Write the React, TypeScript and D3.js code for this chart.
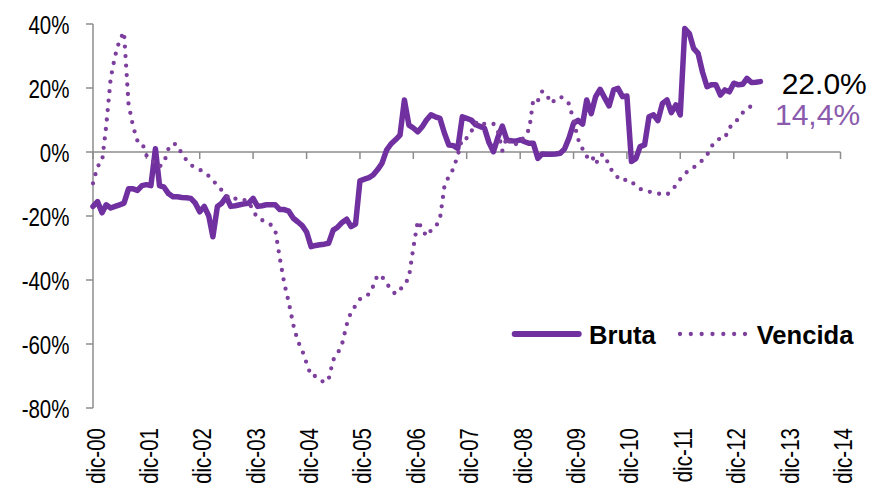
import React from "react";
import * as d3 from "d3";

// Monthly series from dic-00 (index 0), values in %
const bruta: number[] = [
  -17, -15.5, -19, -16.5, -17.5, -17, -16.5, -16, -11.5, -11.5,
  -12, -10.5, -10.2, -10.5, 1, -10.5, -11, -13, -14, -14,
  -14.2, -14.3, -14.5, -16, -18.7, -17, -20, -26.5, -17, -16,
  -14, -17, -16.8, -16.5, -16.2, -16, -14.5, -17, -16.8, -16.5,
  -16.5, -16.5, -18, -18, -18.5, -20.7, -21.8, -23, -25, -29.6,
  -29.2, -29, -28.8, -28.5, -24.4, -23.5, -22, -21, -23.3, -22.5,
  -9, -8.5, -8, -7.2, -5.5, -3.5, 0.6, 2.5, 3.8, 5.3,
  16.25, 8.4, 7.5, 6.3, 8, 10, 11.6, 11, 10.5, 6,
  2.2, 2, 1.1, 11, 10.5, 10, 8.5, 8, 7.4, 3,
  0.1, 4.5, 8.1, 3.75, 3.5, 3.4, 3.8, 3.2, 2.7, 2.7,
  -2, -0.6, -0.7, -0.7, -0.6, -0.4, 1, 4.5, 9, 9.9,
  8.75, 16.25, 12, 17.3, 19.6, 17, 14.4, 19.4, 19.9, 17.3,
  17.5, -3, -2, 1.7, 2.2, 11, 11.6, 9.8, 15.2, 16.25,
  12.3, 14.7, 11.6, 38.6, 37, 32.4, 30.8, 25, 20.4, 21,
  21, 17.8, 19.4, 18.8, 21.5, 21, 21.2, 23, 21.7, 21.8,
  22,
];

const vencida: number[] = [
  -9.8, -4.5, -3, 8, 23, 30, 35, 37.5, 15, 8,
  3.5, 3, -1, -2.8, -3.3, -4.6, -3.3, 1, 2.7, 2.2,
  -0.6, -2.5, -4, -5, -5.5, -6.5, -7.5, -9, -10.3, -12,
  -13.5, -15, -14.6, -14.4, -15, -15.5, -18.3, -20.7, -21.3, -21.8,
  -22.8, -24.5, -33.2, -41, -47, -54, -59, -62, -66, -70,
  -70, -71, -72.1, -71, -65, -63, -60, -54, -50, -48,
  -46, -44.8, -44.5, -42, -38.4, -39, -41, -43, -44.4, -43,
  -41.6, -39.2, -30, -21.5, -24.2, -26.3, -24.5, -23.5, -21, -11,
  -7.5, -5.3, -1, 4.3, 4.3, 6.3, 9.2, 8.1, 8.8, 8.8,
  8.8, 6.6, 0.4, 4.6, 2, 2.5, 2.7, 5.3, 7, 16.5,
  16, 19, 17.8, 15.2, 16.5, 17.3, 16.5, 15, 9.8, 4,
  0.9, -1.5, -0.7, -3.9, -0.9, -0.9, -4.3, -6.7, -8, -9.1,
  -8.5, -9.5, -10.3, -11.5, -12.2, -12.4, -12.6, -13, -13.2, -13.4,
  -12, -10.5, -8.5, -6.9, -5.5, -4.8, -4, -2.5, -1, 1.7,
  3.5, 4.3, 4.3, 7.7, 8.5, 10.5, 12.3, 13.5, 14.4,
];

const xTickLabels: string[] = [
  "dic-00", "dic-01", "dic-02", "dic-03", "dic-04", "dic-05", "dic-06", "dic-07",
  "dic-08", "dic-09", "dic-10", "dic-11", "dic-12", "dic-13", "dic-14",
];
const yTicks: number[] = [40, 20, 0, -20, -40, -60, -80];
const seriesNames: string[] = ["Bruta", "Vencida"];
const endLabels: string[] = ["22.0%", "14,4%"];

const W = 885;
const H = 491;
const startDate = new Date(2000, 11, 1);
const endDate = new Date(2014, 11, 1);

const x = d3.scaleTime().domain([startDate, endDate]).range([93, 840.5]);
const y = d3.scaleLinear().domain([-80, 40]).range([408, 24]);

const monthDate = (i: number) => d3.timeMonth.offset(startDate, i);

const line = d3
  .line<number>()
  .x((_, i) => x(monthDate(i)))
  .y((d) => y(d))
  .curve(d3.curveLinear);

const BRUTA_COLOR = "#7030A0";
const VENC_COLOR = "#7D3F9D";
const AXIS_COLOR = "#8c8c8c";
const FONT = "'Liberation Sans', Arial, sans-serif";

export default function App() {
  const xTicks = xTickLabels.map((_, i) => d3.timeMonth.offset(startDate, i * 12));
  return (
    <svg
      width={W}
      height={H}
      style={{ position: "absolute", left: 0, top: 0, background: "#fff" }}
      fontFamily={FONT}
    >
      {/* y axis */}
      <line x1={x(startDate)} x2={x(startDate)} y1={y(40)} y2={y(-80)} stroke={AXIS_COLOR} strokeWidth={1.5} />
      {yTicks.map((t) => (
        <g key={t}>
          <line x1={x(startDate) - 7} x2={x(startDate)} y1={y(t)} y2={y(t)} stroke={AXIS_COLOR} strokeWidth={1.5} />
          <text
            transform={`translate(69.5, ${y(t) + 9.5}) scale(0.82,1)`}
            textAnchor="end"
            fontSize={25}
            fill="#000"
          >
            {`${t}%`}
          </text>
        </g>
      ))}
      {/* x axis at 0% */}
      <line x1={x(startDate)} x2={x(endDate)} y1={y(0)} y2={y(0)} stroke={AXIS_COLOR} strokeWidth={1.5} />
      {xTicks.map((d, i) => (
        <g key={i}>
          <line x1={x(d)} x2={x(d)} y1={y(0)} y2={y(0) + 7} stroke={AXIS_COLOR} strokeWidth={1.5} />
          <text
            transform={`translate(${x(d) + 11.5}, 428) rotate(-90) scale(0.82,1)`}
            textAnchor="end"
            fontSize={25}
            fill="#000"
          >
            {xTickLabels[i]}
          </text>
        </g>
      ))}

      {/* series */}
      <path d={line(bruta) || ""} fill="none" stroke={BRUTA_COLOR} strokeWidth={5.5} strokeLinejoin="round" strokeLinecap="round" />
      <path
        d={line(vencida) || ""}
        fill="none"
        stroke={VENC_COLOR}
        strokeWidth={4.3}
        strokeLinecap="round"
        strokeDasharray="0 9.5"
      />

      {/* end labels */}
      <text x={781.7} y={94.3} fontSize={30} fill="#000">{endLabels[0]}</text>
      <text x={775} y={125} fontSize={30} fill="#8A5AAD">{endLabels[1]}</text>

      {/* legend */}
      <line x1={514.7} x2={578.7} y1={334} y2={334} stroke={BRUTA_COLOR} strokeWidth={6} strokeLinecap="round" />
      <text x={589} y={344.3} fontSize={25.6} fontWeight="bold" fill="#000">{seriesNames[0]}</text>
      <line
        x1={680}
        x2={746}
        y1={334}
        y2={334}
        stroke={VENC_COLOR}
        strokeWidth={4.3}
        strokeLinecap="round"
        strokeDasharray="0 10.83"
      />
      <text x={756.7} y={344.3} fontSize={25.6} fontWeight="bold" fill="#000">{seriesNames[1]}</text>
    </svg>
  );
}
